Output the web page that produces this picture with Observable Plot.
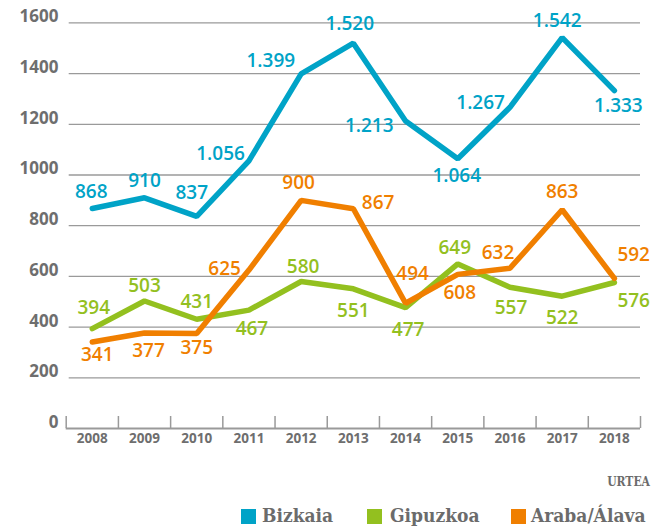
<!DOCTYPE html>
<html><head><meta charset="utf-8">
<script src="https://cdn.jsdelivr.net/npm/d3@7"></script>
<script src="https://cdn.jsdelivr.net/npm/@observablehq/plot@0.6"></script>
<style>
body{margin:0;background:#fff;}
#wrap{position:relative;width:653px;height:527px;overflow:hidden;}
#chart{position:absolute;left:0;top:0;}
.slab{font-family:"DejaVu Serif Condensed","DejaVu Serif",serif;font-weight:bold;color:#6b6b6b;position:absolute;white-space:nowrap;}
#urtea{font-size:12px;right:3px;top:475px;}
.sw{position:absolute;width:15px;height:15px;top:509px;}
.lt{font-size:19px;top:503px;line-height:24px;}
</style></head><body>
<div id="wrap"><div id="chart"></div>
<div id="urtea" class="slab">URTEA</div>
<div id="legend"></div>
</div>
<script>
const years = [2008, 2009, 2010, 2011, 2012, 2013, 2014, 2015, 2016, 2017, 2018];
const bizkaia = [868, 910, 837, 1056, 1399, 1520, 1213, 1064, 1267, 1542, 1333];
const gipuzkoa = [394, 503, 431, 467, 580, 551, 477, 649, 557, 522, 576];
const araba = [341, 377, 375, 625, 900, 867, 494, 608, 632, 863, 592];
const yTicks = [0, 200, 400, 600, 800, 1000, 1200, 1400, 1600];
const seriesNames = ["Bizkaia", "Gipuzkoa", "Araba/Álava"];
const colors = ["#00a3c7", "#93c01f", "#f07f00"];

// label placement per point: [dx, dy, textAnchor]
const bizkaiaLabelPos = [[-1,-16.5,"middle"],[0,-16.5,"middle"],[-5,-23,"middle"],[-4,-7,"end"],[-6,-12.6,"end"],[-3.6,-19,"middle"],[-12,5,"end"],[-1,17,"middle"],[-5,-4,"end"],[-5,-17,"middle"],[4,15,"middle"]];
const gipuzkoaLabelPos = [[1.5,-20.6,"middle"],[0,-15,"middle"],[0,-17.4,"middle"],[3,19,"middle"],[2,-14.7,"middle"],[0,22.5,"middle"],[2.5,22,"middle"],[-3,-16.5,"middle"],[1,20.7,"middle"],[0,22,"middle"],[3,18,"start"]];
const arabaLabelPos = [[5,12.5,"middle"],[4,17.6,"middle"],[0,14,"middle"],[-8,-1,"end"],[-2.5,-17,"middle"],[8.5,-6,"start"],[7,-29,"middle"],[2,18.6,"middle"],[-12,-15,"middle"],[0,-18,"middle"],[3,-24,"start"]];

const fmt = d3.formatLocale({thousands: ".", grouping: [3], decimal: ","}).format(",d");
const labelFont = "'Open Sans', 'Noto Sans', sans-serif";
const grey = "#6e6e6e";

const rows = (vals) => vals.map((v, i) => ({year: years[i], value: v}));
const boundaries = years.map(y => y - 0.5).concat([years[years.length - 1] + 0.5]);

function labelMarks(vals, pos, color) {
  return vals.map((v, i) => Plot.text([{year: years[i], value: v}], {
    x: "year", y: "value", text: d => fmt(d.value),
    dx: pos[i][0], dy: pos[i][1], textAnchor: pos[i][2],
    fill: color, fontSize: 19, fontWeight: 600, fontFamily: labelFont
  }));
}
const lineOpts = (c) => ({x: "year", y: "value", stroke: c, strokeWidth: 5.5, strokeLinejoin: "miter", strokeLinecap: "round"});

const chart = Plot.plot({
  width: 653, height: 470,
  marginLeft: 65.7, marginRight: 13, marginTop: 22.4, marginBottom: 42,
  x: {domain: [years[0] - 0.5, years[years.length - 1] + 0.5], axis: null},
  y: {domain: [0, 1600], axis: null},
  marks: [
    Plot.ruleY(yTicks.filter(d => d > 0), {y: d => d, stroke: "#9a9a9a", strokeWidth: 1.3, insetLeft: 3}),
    Plot.ruleY([0], {y: d => d, stroke: "#9a9a9a", strokeWidth: 2}),
    Plot.ruleX(boundaries, {x: d => d, y1: 0, y2: 0, insetTop: -12, stroke: "#9a9a9a", strokeWidth: 1.5}),
    Plot.text(yTicks, {y: d => d, text: d => String(d), frameAnchor: "left", dx: -7.7, dy: -6, textAnchor: "end", fill: grey, fontSize: 17, fontWeight: 700, fontFamily: labelFont}),
    Plot.text(years, {x: d => d, text: d => String(d), frameAnchor: "bottom", dy: 14, fill: grey, fontSize: 13.5, fontWeight: 700, fontFamily: labelFont}),
    Plot.lineY(rows(gipuzkoa), lineOpts(colors[1])),
    Plot.lineY(rows(araba), lineOpts(colors[2])),
    Plot.lineY(rows(bizkaia), lineOpts(colors[0])),
    ...labelMarks(gipuzkoa, gipuzkoaLabelPos, colors[1]),
    ...labelMarks(araba, arabaLabelPos, colors[2]),
    ...labelMarks(bizkaia, bizkaiaLabelPos, colors[0])
  ]
});
document.getElementById("chart").appendChild(chart);

const legendX = [[241, 262], [366.7, 390], [511, 531]];
const legend = document.getElementById("legend");
seriesNames.forEach((name, i) => {
  const sw = document.createElement("div");
  sw.className = "sw"; sw.style.left = legendX[i][0] + "px"; sw.style.background = colors[i];
  const t = document.createElement("div");
  t.className = "slab lt"; t.style.left = legendX[i][1] + "px"; t.textContent = name;
  legend.appendChild(sw); legend.appendChild(t);
});
</script>
</body></html>
